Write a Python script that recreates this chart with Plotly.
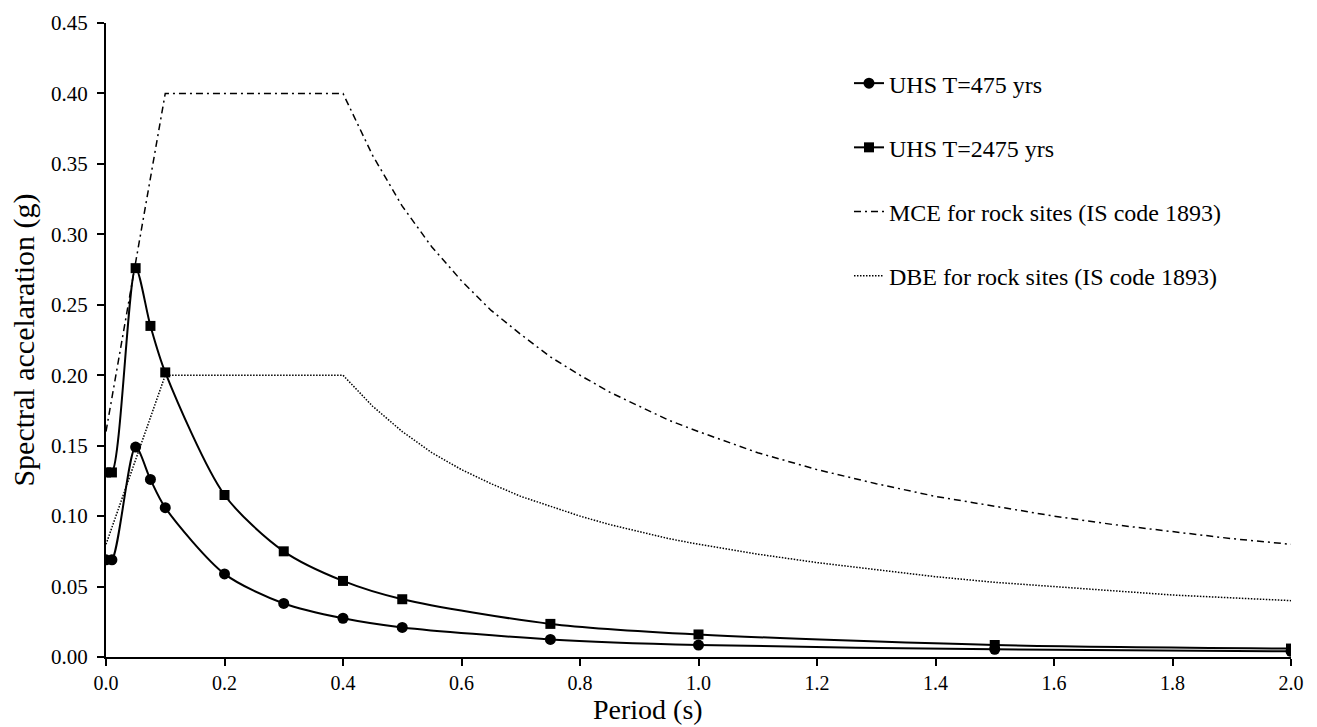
import plotly.graph_objects as go

# Uniform hazard spectra (period in s, spectral acceleration in g)
period_uhs = [0.0, 0.01, 0.05, 0.075, 0.1, 0.2, 0.3, 0.4, 0.5, 0.75, 1.0, 1.5, 2.0]
uhs_475 = [0.069, 0.069, 0.149, 0.126, 0.106, 0.059, 0.038, 0.0275, 0.021, 0.0125, 0.0085, 0.0055, 0.004]
uhs_2475 = [0.131, 0.131, 0.276, 0.235, 0.202, 0.115, 0.075, 0.054, 0.041, 0.0235, 0.016, 0.0085, 0.006]

# IS 1893 design spectra for rock sites
period_code = [0.0, 0.1, 0.4, 0.45, 0.5, 0.55, 0.6, 0.65, 0.7, 0.75, 0.8, 0.85, 0.9, 0.95,
               1.0, 1.1, 1.2, 1.3, 1.4, 1.5, 1.6, 1.7, 1.8, 1.9, 2.0]
mce_rock = [0.16, 0.40, 0.40, 0.356, 0.32, 0.291, 0.267, 0.246, 0.229, 0.213, 0.20, 0.188, 0.178, 0.168,
            0.16, 0.145, 0.133, 0.123, 0.114, 0.107, 0.10, 0.094, 0.089, 0.084, 0.08]
dbe_rock = [0.08, 0.20, 0.20, 0.178, 0.16, 0.145, 0.133, 0.123, 0.114, 0.107, 0.10, 0.094, 0.089, 0.084,
            0.08, 0.073, 0.067, 0.062, 0.057, 0.053, 0.05, 0.047, 0.044, 0.042, 0.04]

x_ticks = [0.0, 0.2, 0.4, 0.6, 0.8, 1.0, 1.2, 1.4, 1.6, 1.8, 2.0]
y_ticks = [0.00, 0.05, 0.10, 0.15, 0.20, 0.25, 0.30, 0.35, 0.40, 0.45]

FONT = "Liberation Serif"

fig = go.Figure()

fig.add_trace(go.Scatter(
    x=period_code, y=mce_rock, mode="lines", name="MCE for rock sites (IS code 1893)",
    line=dict(color="black", width=1.5, dash="7px,4px,2px,4px"),
    legendgroup="c", legendrank=3,
))
fig.add_trace(go.Scatter(
    x=period_code, y=dbe_rock, mode="lines", name="DBE for rock sites (IS code 1893)",
    line=dict(color="black", width=1.5, dash="1.5px,1.5px"),
    legendgroup="d", legendrank=4,
))
fig.add_trace(go.Scatter(
    x=period_uhs, y=uhs_475, mode="lines+markers", name="UHS T=475 yrs",
    line=dict(color="black", width=2, shape="spline", smoothing=0.8),
    marker=dict(symbol="circle", size=11, color="black"),
    legendgroup="a", legendrank=1,
))
fig.add_trace(go.Scatter(
    x=period_uhs, y=uhs_2475, mode="lines+markers", name="UHS T=2475 yrs",
    line=dict(color="black", width=2, shape="spline", smoothing=0.8),
    marker=dict(symbol="square", size=10, color="black"),
    legendgroup="b", legendrank=2,
))

fig.update_layout(
    width=1317, height=727,
    margin=dict(l=106, r=26, t=23, b=70),
    paper_bgcolor="white", plot_bgcolor="white",
    font=dict(family=FONT, color="black", size=21),
    showlegend=True,
    legend=dict(
        x=0.627, y=0.94, xanchor="left", yanchor="top",
        font=dict(family=FONT, size=24, color="black"),
        bgcolor="rgba(0,0,0,0)", tracegroupgap=30,
        traceorder="grouped",
    ),
    xaxis=dict(
        range=[0, 2.0], tickvals=x_ticks, tickformat=".1f",
        showgrid=False, zeroline=False, showline=True, linecolor="black", linewidth=2,
        ticks="outside", ticklen=7, tickwidth=2, tickcolor="black",
        tickfont=dict(family=FONT, size=20), ticklabelstandoff=0,
    ),
    yaxis=dict(
        range=[0, 0.45], tickvals=y_ticks, tickformat=".2f",
        showgrid=False, zeroline=False, showline=True, linecolor="black", linewidth=2,
        ticks="outside", ticklen=7, tickwidth=2, tickcolor="black",
        tickfont=dict(family=FONT, size=21), ticklabelstandoff=5,
        title=dict(text="Spectral accelaration (g)", font=dict(family=FONT, size=30), standoff=8),
    ),
    annotations=[dict(
        text="Period (s)", xref="paper", yref="paper",
        x=0.457, y=-0.0835, xanchor="center", yanchor="middle",
        showarrow=False, font=dict(family=FONT, size=28, color="black"),
    )],
)

fig.write_html("out.html")
